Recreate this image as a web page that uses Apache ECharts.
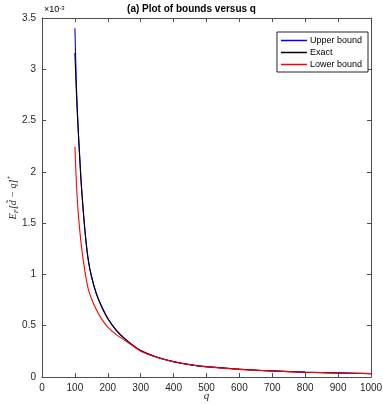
<!DOCTYPE html>
<html><head><meta charset="utf-8">
<script src="https://cdn.jsdelivr.net/npm/echarts@6/dist/echarts.min.js"></script>
<style>html,body{margin:0;padding:0;background:#fff}#c{width:383px;height:404px}</style>
</head><body><div id="c"></div>
<script>
// q values and series values (in units of 1e-3)
var qValues = [100,105,110,115,120,130,140,150,165,180,200,225,250,275,300,350,400,450,500,600,700,800,900,1000];
var upperBound = [3.40,2.80,2.43,2.13,1.86,1.45,1.16,0.99,0.817,0.699,0.572,0.46,0.379,0.313,0.258,0.193,0.150,0.121,0.101,0.076,0.060,0.048,0.040,0.034];
var exact      = [3.16,2.74,2.40,2.11,1.845,1.44,1.15,0.98,0.81,0.693,0.568,0.457,0.376,0.311,0.256,0.192,0.149,0.120,0.100,0.075,0.059,0.047,0.039,0.033];
var lowerBound = [2.245,1.86,1.605,1.424,1.268,1.039,0.865,0.768,0.657,0.572,0.486,0.415,0.362,0.306,0.252,0.190,0.148,0.119,0.099,0.074,0.058,0.047,0.039,0.033];
var xTicks = [0,100,200,300,400,500,600,700,800,900,1000];
var yTicks = [0,0.5,1,1.5,2,2.5,3,3.5];

function pairs(arr){ return qValues.map(function(q,i){ return [q, arr[i]]; }); }
var axisCol = '#4d4d4d', txtCol = '#262626', ff = 'Liberation Sans, Arial, sans-serif';
var chart = echarts.init(document.getElementById('c'));
var baseX = {type:'value', min:xTicks[0], max:xTicks[xTicks.length-1], interval:xTicks[1]-xTicks[0],
  axisLine:{show:true, onZero:false, lineStyle:{color:axisCol, width:1}},
  axisTick:{show:true, inside:true, length:4, lineStyle:{color:axisCol}},
  splitLine:{show:false}};
var baseY = {type:'value', min:yTicks[0], max:yTicks[yTicks.length-1], interval:yTicks[1]-yTicks[0],
  axisLine:{show:true, onZero:false, lineStyle:{color:axisCol, width:1}},
  axisTick:{show:true, inside:true, length:4, lineStyle:{color:axisCol}},
  splitLine:{show:false}};
chart.setOption({
  animation:false,
  title:{text:'(a) Plot of bounds versus q', left:'center', top:4,
    textStyle:{fontFamily:ff, fontSize:10, fontWeight:'bold', color:'#000'}, padding:0, itemGap:0},
  grid:{left:42, right:12, top:18, bottom:27, outerBoundsMode:'none', containLabel:false},
  legend:{data:['Upper bound','Exact','Lower bound'], orient:'vertical', right:15, top:32,
    backgroundColor:'#fff', borderColor:'#262626', borderWidth:1, borderRadius:0,
    padding:[4,6,3,4], itemGap:3, itemWidth:26, itemHeight:1.5, icon:'rect',
    textStyle:{fontFamily:ff, fontSize:9, color:'#000', padding:[0,0,0,-2]}},
  xAxis:[
    Object.assign({}, baseX, {position:'bottom',
      axisLabel:{fontFamily:ff, fontSize:10, color:txtCol, margin:6,
        formatter:function(v){ return String(v); }},
      name:'q', nameLocation:'middle', nameGap:14, nameMoveOverlap:false,
      nameTextStyle:{fontFamily:'Liberation Serif, serif', fontStyle:'italic', fontSize:11, color:txtCol}}),
    Object.assign({}, baseX, {position:'top', axisLabel:{show:false}})
  ],
  yAxis:[
    Object.assign({}, baseY, {position:'left',
      axisLabel:{fontFamily:ff, fontSize:10, color:txtCol, margin:6,
        formatter:function(v){ return String(+v.toFixed(1)); }},
      name:'{it|E}{sub|F}{it|[d̃ − q]}{sup|+}', nameLocation:'middle', nameGap:22, nameRotate:90, nameMoveOverlap:false,
      nameTextStyle:{color:txtCol, rich:{
        it:{fontFamily:'Liberation Serif, serif', fontStyle:'italic', fontSize:10, color:txtCol, lineHeight:14},
        sub:{fontFamily:'Liberation Serif, serif', fontStyle:'italic', fontSize:7, color:txtCol, verticalAlign:'bottom', lineHeight:14, padding:[5,0,0,0]},
        sup:{fontFamily:'Liberation Serif, serif', fontSize:7, color:txtCol, verticalAlign:'top', lineHeight:14, padding:[0,0,6,0]}
      }}}),
    Object.assign({}, baseY, {position:'right', axisLabel:{show:false}})
  ],
  graphic:[{type:'text', left:44, top:5, style:{
    text:'{a|×10}{b|-3}', rich:{a:{fontFamily:ff, fontSize:9, color:txtCol}, b:{fontFamily:ff, fontSize:6, color:txtCol, verticalAlign:'top', padding:[0,0,4,0]}}}}],
  series:[
    {name:'Upper bound', type:'line', data:pairs(upperBound), showSymbol:false, smooth:0.3,
      lineStyle:{color:'#0000ff', width:1.1}, itemStyle:{color:'#0000ff'}},
    {name:'Exact', type:'line', data:pairs(exact), showSymbol:false, smooth:0.3,
      lineStyle:{color:'#000000', width:1.1}, itemStyle:{color:'#000000'}},
    {name:'Lower bound', type:'line', data:pairs(lowerBound), showSymbol:false, smooth:0.3,
      lineStyle:{color:'#ff0000', width:1.1}, itemStyle:{color:'#ff0000'}}
  ]
});
</script></body></html>
